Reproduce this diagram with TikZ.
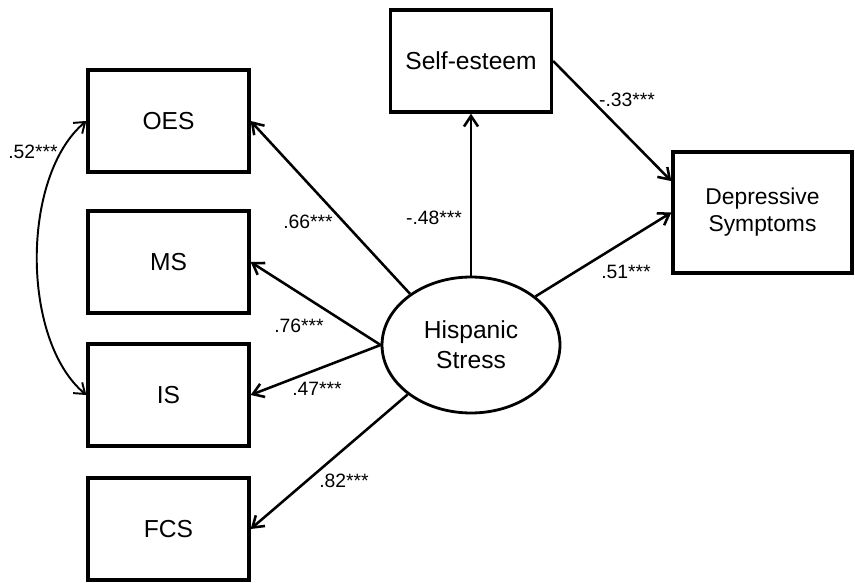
\documentclass[tikz,border=0pt]{standalone}
\usepackage{fontspec}
\setmainfont{Liberation Sans}
\usetikzlibrary{arrows.meta,shapes.geometric}

\tikzset{
    obs/.style={draw, line width=1.9pt, minimum width=3.22cm, minimum height=2.04cm, align=center, font=\fontsize{14}{17}\selectfont},
    latent/.style={draw, ellipse, line width=1.6pt, minimum width=3.56cm, minimum height=2.72cm, inner sep=0pt, align=center, font=\fontsize{14}{17}\selectfont},
    loading/.style={line width=1.45pt, -{Straight Barb[length=6pt,width=8pt]}},
    corr/.style={line width=1.1pt, {Straight Barb[length=5.5pt,width=8pt]}-{Straight Barb[length=5.5pt,width=8pt]}},
    coef/.style={inner sep=0pt, font=\fontsize{11}{13}\selectfont}
}

\begin{document}
\begin{tikzpicture}[x=0.02cm, y=0.02cm]
                \useasboundingbox (0,0) rectangle (855,582);
                \node[obs] (oes) at (168.5,461) {OES};
                \node[obs] (ms) at (168.5,320) {MS};
                \node[obs] (is) at (168.5,187) {IS};
                \node[obs] (fcs) at (168.5,53) {FCS};
                \node[obs] (selfesteem) at (471,521) {Self-esteem};
                \node[obs, minimum width=3.58cm, minimum height=2.42cm, font=\fontsize{13}{15.3}\selectfont] (depress) at (762.5,369.5) {Depressive\\Symptoms};
                \node[latent] (hstress) at (471,237) {Hispanic\\Stress};

                \draw[loading] (hstress.140) -- (oes.east);
                \draw[loading] (hstress.west) -- (ms.east);
                \draw[loading] (hstress.west) -- (is.east);
                \draw[loading] (hstress.218) -- (fcs.east);
                \draw[loading] (hstress.north) -- (selfesteem.south);
                \draw[loading] (hstress.37) -- (depress.west);
                \draw[loading] (selfesteem.east) -- (depress.161);
                \draw[corr] (oes.west) to[out=220, in=140, looseness=0.8] (is.west);

                \node[coef] (c52) at (33,430) {.52***};
                \node[coef] (c66) at (308,360) {.66***};
                \node[coef] (c76) at (299,256) {.76***};
                \node[coef] (c47) at (317,193) {.47***};
                \node[coef] (c82) at (344,101) {.82***};
                \node[coef] (c48) at (434,364) {-.48***};
                \node[coef] (c33) at (627,482) {-.33***};
                \node[coef] (c51) at (626,310) {.51***};
            \end{tikzpicture}
\end{document}
